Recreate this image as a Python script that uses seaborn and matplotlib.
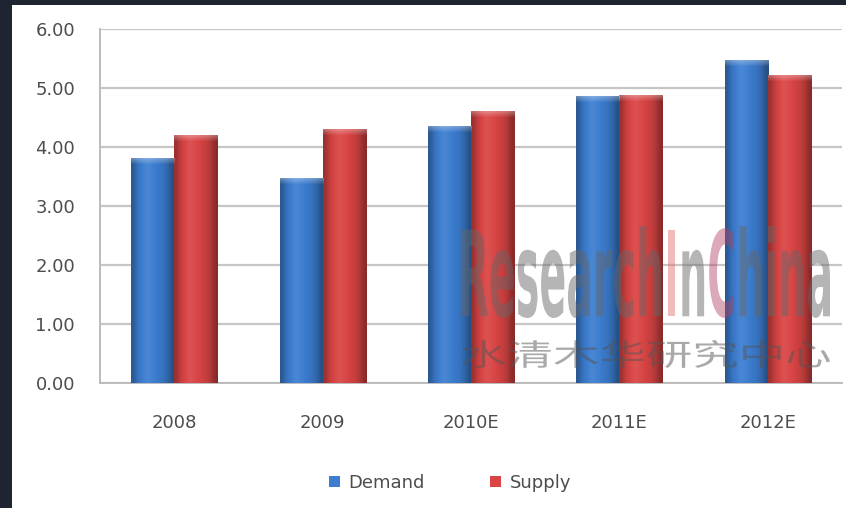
import matplotlib
matplotlib.use("Agg")
import matplotlib.pyplot as plt
import matplotlib.colors as mcolors
import numpy as np
import pandas as pd
import seaborn as sns
from matplotlib.textpath import TextPath
from matplotlib.patches import PathPatch, Rectangle
from matplotlib.font_manager import FontProperties
from matplotlib.transforms import Affine2D

# chart data
years = ["2008", "2009", "2010E", "2011E", "2012E"]
demand = [3.81, 3.47, 4.36, 4.86, 5.47]
supply = [4.20, 4.31, 4.61, 4.88, 5.22]
series = ["Demand", "Supply"]
colors = ["#3c7dd0", "#d94444"]
y_ticks = [0, 1, 2, 3, 4, 5, 6]
y_labels = ["0.00", "1.00", "2.00", "3.00", "4.00", "5.00", "6.00"]

df = pd.DataFrame({
    "Year": years * 2,
    "Value": demand + supply,
    "Series": [series[0]] * len(years) + [series[1]] * len(years),
})

W, H = 846, 508
sns.set_theme(style="white")
plt.rcParams["font.family"] = ["DejaVu Sans", "Noto Sans CJK SC"]

fig = plt.figure(figsize=(W / 100, H / 100), dpi=100)
fig.patch.set_facecolor("white")
ax = fig.add_axes([100 / W, 1 - 383 / H, 742 / W, 354 / H])

sns.barplot(data=df, x="Year", y="Value", hue="Series", palette=colors,
            width=0.58, gap=0, saturation=1, ax=ax, zorder=3,
            edgecolor="none", linewidth=0)

# fake the bevelled look with a gradient clipped to every bar
def shade(c, f):
    r = np.array(mcolors.to_rgb(c))
    return np.clip(r * f if f < 1 else r + (1 - r) * (f - 1), 0, 1)

for bar in list(ax.patches):
    fc = bar.get_facecolor()
    x, w, h = bar.get_x(), bar.get_width(), bar.get_height()
    f = np.array([0.70, 0.92, 1.0, 1.08, 1.05, 1.0, 0.95, 0.9, 0.8, 0.62])
    grad = np.array([[shade(fc, v) for v in f]])
    im = ax.imshow(grad, extent=[x, x + w, 0, h], aspect="auto",
                   interpolation="bicubic", zorder=4)
    im.set_clip_path(bar)
    # lighter rim along the top (row 0 is the top of the image)
    a = np.linspace(0.35, 0, 8)[:, None, None]
    rim = np.concatenate([np.ones((8, 1, 3)), a], axis=2)
    im2 = ax.imshow(rim, extent=[x, x + w, h - 0.12, h], aspect="auto",
                    interpolation="bilinear", zorder=5)
    im2.set_clip_path(bar)

ax.set_xlim(-0.5, 4.5)
ax.set_ylim(0, 6)
ax.set_yticks(y_ticks)
ax.set_yticklabels(y_labels)
ax.set_xlabel("")
ax.set_ylabel("")
ax.yaxis.grid(True, color="#c6c6c6", linewidth=1.6, zorder=0)
ax.set_axisbelow(True)
for s in ["top", "right"]:
    ax.spines[s].set_visible(False)
for s in ["left", "bottom"]:
    ax.spines[s].set_color("#bcbcbc")
    ax.spines[s].set_linewidth(1.4)
ax.tick_params(axis="y", length=0, pad=18, labelsize=13, labelcolor="#4d4d4d")
ax.tick_params(axis="x", length=0, pad=22, labelsize=13, labelcolor="#4d4d4d")
ax.set_xticks(np.arange(-0.5, 5, 1), minor=True)
ax.tick_params(axis="x", which="minor", direction="in", length=5,
               width=1.2, color="#bcbcbc")

handles, labels = ax.get_legend_handles_labels()
ax.get_legend().remove()
fig.legend(handles, labels, loc="center", bbox_to_anchor=(450 / W, 1 - 483 / H),
           ncol=2, frameon=False, fontsize=13, handlelength=0.6,
           handleheight=0.6, handletextpad=0.5, columnspacing=3.6,
           labelcolor="#4d4d4d")

# watermark
def watermark(parts, prop, box):
    full = TextPath((0, 0), "".join(p[0] for p in parts), size=1, prop=prop)
    ext = full.get_extents()
    x0, y0, w, h = box
    sx, sy = w / ext.width / W, h / ext.height / H
    bar_w = TextPath((0, 0), "|", size=1, prop=prop).get_extents().x1
    off = 0
    for s, c, a in parts:
        path = TextPath((off, 0), s, size=1, prop=prop)
        tr = (Affine2D().translate(-ext.x0, -ext.y0).scale(sx, sy)
              .translate(x0 / W, 1 - (y0 + h) / H) + fig.transFigure)
        fig.add_artist(PathPatch(path, transform=tr, fc=c, ec="none",
                                 alpha=a, zorder=10))
        off += TextPath((0, 0), s + "|", size=1, prop=prop).get_extents().x1 - bar_w

gray = "#666666"
watermark([("Research", gray, 0.48), ("I", "#e06a6a", 0.45), ("n", gray, 0.48),
           ("C", "#b04060", 0.45), ("hina", gray, 0.48)],
          FontProperties(family="DejaVu Sans", weight="bold", size=1),
          (462, 226, 368, 92))
watermark([("水清木华研究中心", "#555555", 0.5)],
          FontProperties(family="Noto Sans CJK SC", size=1),
          (462, 340, 368, 28))

# dark frame strips of the screenshot
fig.add_artist(Rectangle((0, 1 - 5 / H), 1, 5 / H, transform=fig.transFigure,
                         fc="#1f2530", ec="none", zorder=20))
fig.add_artist(Rectangle((0, 0), 12 / W, 1, transform=fig.transFigure,
                         fc="#1f2530", ec="none", zorder=20))

fig.savefig("out.png", dpi=100)
